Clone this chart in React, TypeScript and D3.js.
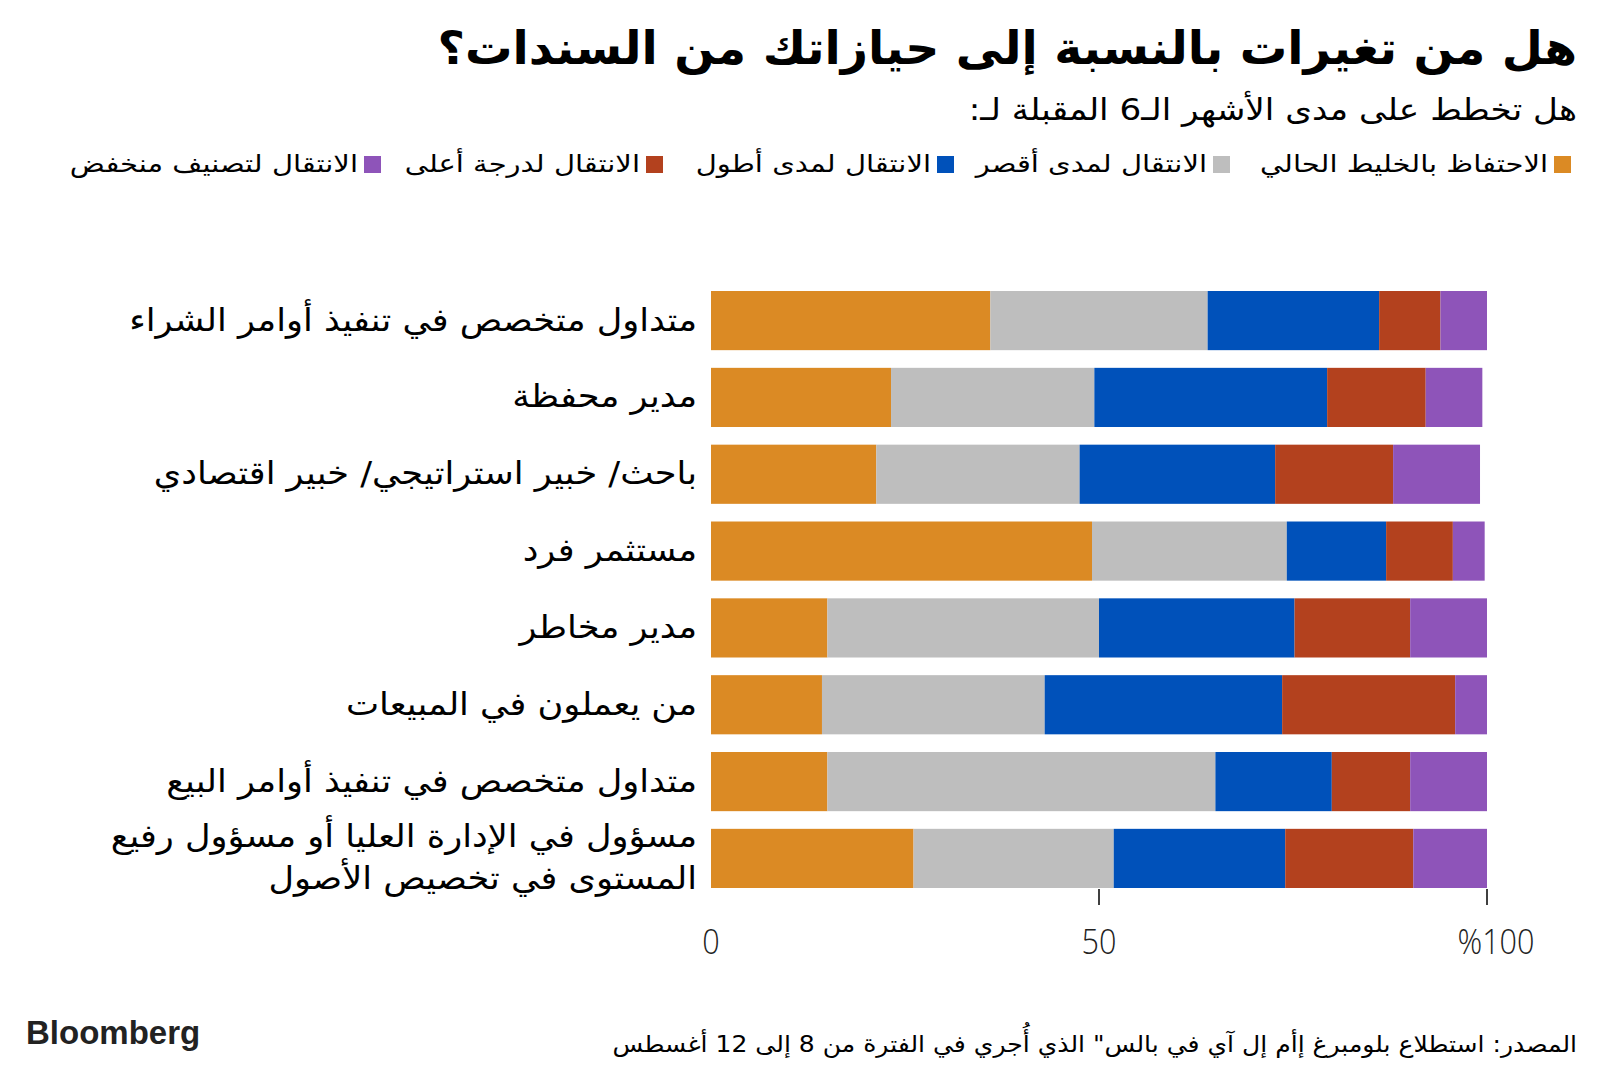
import React from "react";
import * as d3 from "d3";

const categories = [
  "متداول متخصص في تنفيذ أوامر الشراء",
  "مدير محفظة",
  "باحث/ خبير استراتيجي/ خبير اقتصادي",
  "مستثمر فرد",
  "مدير مخاطر",
  "من يعملون في المبيعات",
  "متداول متخصص في تنفيذ أوامر البيع",
  "مسؤول في الإدارة العليا أو مسؤول رفيع|المستوى في تخصيص الأصول",
];

const seriesNames = [
  "الاحتفاظ بالخليط الحالي",
  "الانتقال لمدى أقصر",
  "الانتقال لمدى أطول",
  "الانتقال لدرجة أعلى",
  "الانتقال لتصنيف منخفض",
];

const keepMix = [36, 23.2, 21.3, 49.1, 15, 14.3, 15, 26.1];
const shorter = [28, 26.2, 26.2, 25.1, 35, 28.7, 50, 25.8];
const longer = [22.1, 30, 25.2, 12.8, 25.2, 30.6, 15, 22.1];
const higher = [7.9, 12.7, 15.2, 8.6, 14.9, 22.3, 10.1, 16.5];
const lower = [6, 7.3, 11.2, 4.1, 9.9, 4.1, 9.9, 9.5];

const xTicks = [0, 50, 100];
const tickLabels = ["0", "50", "%100"];

const colors = ["#DB8A24", "#BEBEBE", "#0051BA", "#B3411E", "#8E54B9"];

const title = "هل من تغيرات بالنسبة إلى حيازاتك من السندات؟";
const subtitle = "هل تخطط على مدى الأشهر الـ6 المقبلة لـ:";
const source = "المصدر: استطلاع بلومبرغ إأم إل آي في بالس\" الذي أُجري في الفترة من 8 إلى 12 أغسطس";

const W = 1600;
const H = 1067;
const FONT = "'DejaVu Sans', 'Noto Sans', sans-serif";

function SText(props: {
  x: number;
  y: number;
  sx: number;
  size: number;
  weight?: any;
  rtl?: boolean;
  anchor?: string;
  fill?: string;
  family?: string;
  children: any;
}) {
  const { x, y, sx, size, weight, rtl = true, anchor = "start", fill = "#000", family, children } = props;
  return (
    <g transform={`translate(${x},${y}) scale(${sx},1)`}>
      <text
        x={0}
        y={0}
        direction={rtl ? "rtl" : "ltr"}
        textAnchor={anchor}
        fontSize={size}
        fontWeight={weight}
        fill={fill}
        fontFamily={family}
      >
        {children}
      </text>
    </g>
  );
}

export default function App() {
  const x = d3.scaleLinear().domain([0, 100]).range([711, 1487]);
  const y = d3
    .scaleBand<number>()
    .domain(d3.range(categories.length))
    .range([291, 888])
    .paddingInner(0.23)
    .paddingOuter(0);

  const table = categories.map((c, i) => ({
    i,
    s0: keepMix[i],
    s1: shorter[i],
    s2: longer[i],
    s3: higher[i],
    s4: lower[i],
  }));
  const stack = d3.stack<any>().keys(["s0", "s1", "s2", "s3", "s4"]);
  const layers = stack(table);

  const legendSquares = [1554, 1213, 937, 646, 364];

  return (
    <svg width={W} height={H} style={{ position: "absolute", left: 0, top: 0, background: "#fff" }} fontFamily={FONT}>
      <rect width={W} height={H} fill="#fff" />
      <SText x={1577} y={64} sx={1.03} size={46} weight="bold">
        {title}
      </SText>
      <SText x={1577} y={120} sx={1.14} size={30}>
        {subtitle}
      </SText>
      {seriesNames.map((s, k) => (
        <g key={k}>
          <rect x={legendSquares[k]} y={156} width={17} height={17} fill={colors[k]} />
          <SText x={legendSquares[k] - 6} y={172} sx={1.21} size={24}>
            {s}
          </SText>
        </g>
      ))}
      {layers.map((layer, k) => (
        <g key={k} fill={colors[k]}>
          {layer.map((d, i) => (
            <rect
              key={i}
              x={x(d[0])}
              y={y(i)}
              width={x(d[1]) - x(d[0])}
              height={y.bandwidth()}
            />
          ))}
        </g>
      ))}
      {categories.map((c, i) => {
        const lines = c.split("|");
        const cy = (y(i) as number) + y.bandwidth() / 2;
        const lh = 42;
        return (
          <g key={i}>
            {lines.map((l, j) => (
              <SText key={j} x={697} y={cy + 10 + (j - (lines.length - 1) / 2) * lh} sx={1.1} size={32}>
                {l}
              </SText>
            ))}
          </g>
        );
      })}
      {xTicks.map((t, k) => (
        <g key={k}>
          {t > 0 && <line x1={x(t)} x2={x(t)} y1={889} y2={905} stroke="#000" strokeWidth={1.5} />}
          <SText
            x={x(t) + (k === xTicks.length - 1 ? 9 : 0)}
            y={954}
            sx={0.9}
            size={34}
            rtl={false}
            anchor="middle"
            fill="#222"
            family="'Open Sans', sans-serif"
            weight={300}
          >
            {tickLabels[k]}
          </SText>
        </g>
      ))}
      <text x={26} y={1044} fontSize={33} fontWeight="bold" fill="#222" fontFamily="'Liberation Sans', Arial, sans-serif" letterSpacing={0}>
        Bloomberg
      </text>
      <SText x={1577} y={1052} sx={1.09} size={23}>
        {source}
      </SText>
    </svg>
  );
}
